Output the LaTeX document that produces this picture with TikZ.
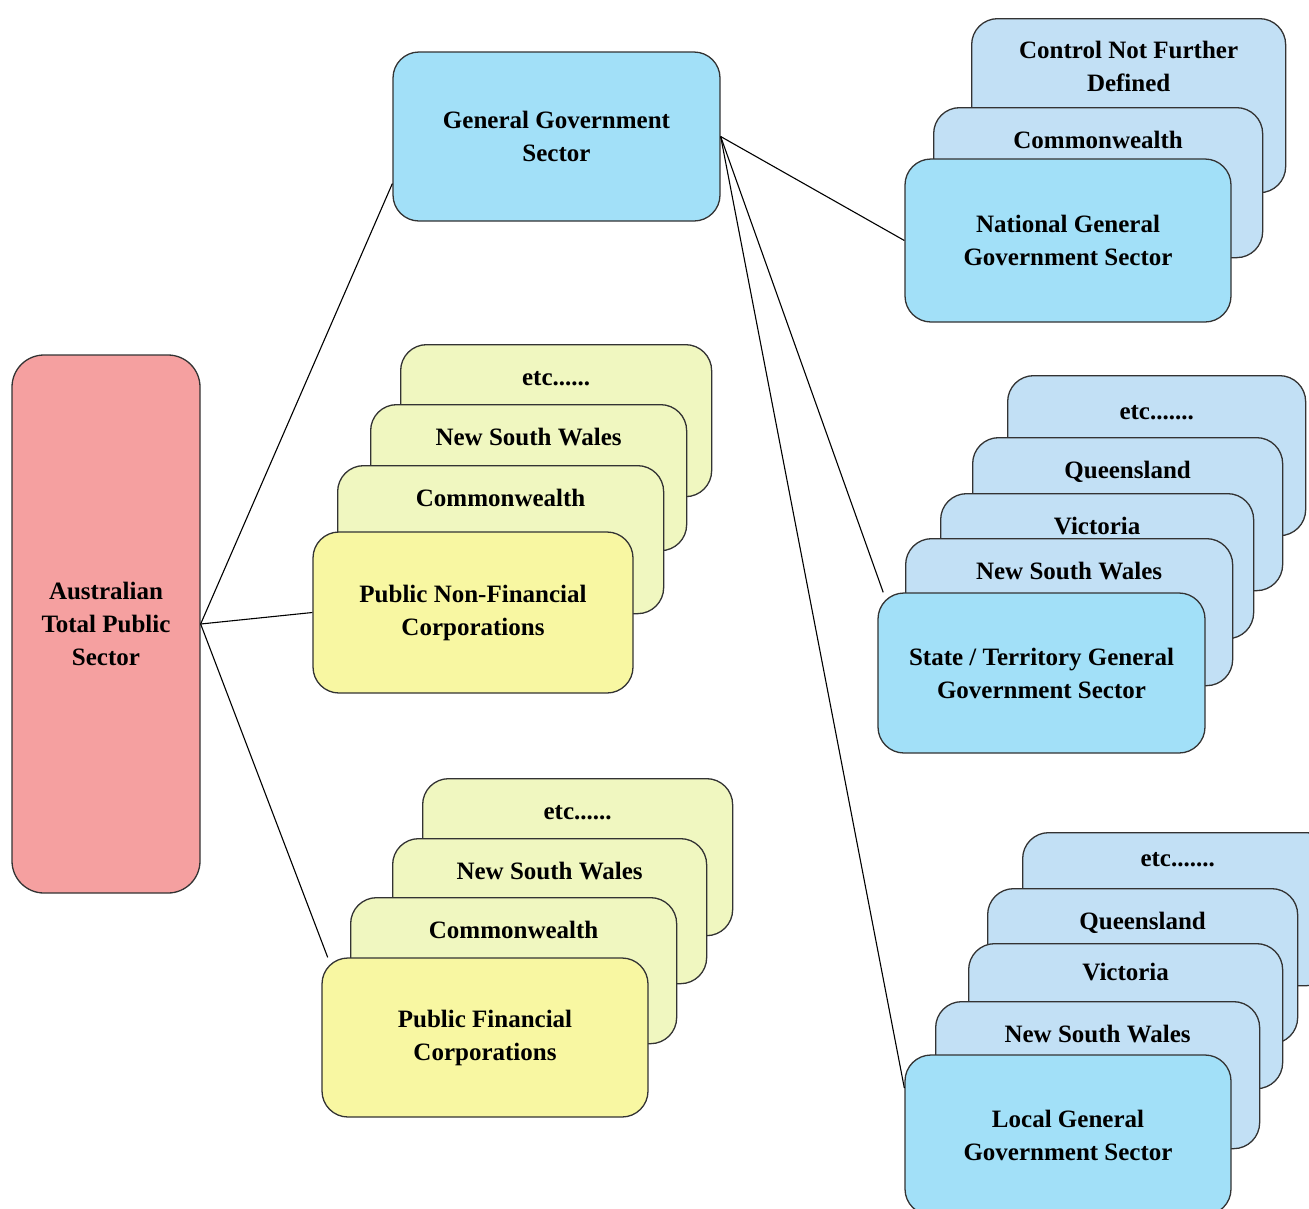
\documentclass[tikz,border=0pt]{standalone}
\usepackage{fontspec}
\setmainfont{Liberation Serif}[BoldFont={Liberation Serif Bold}]
\usepackage{xcolor}
\usetikzlibrary{calc}

\definecolor{pinkbox}{RGB}{245,160,160}
\definecolor{cyanbox}{RGB}{162,224,248}
\definecolor{bluecard}{RGB}{194,224,245}
\definecolor{yellowbox}{RGB}{248,247,162}
\definecolor{yellowcard}{RGB}{240,247,192}

\begin{document}
\begin{tikzpicture}[x=1pt, y=-1pt,
	box/.style={draw=black!80, line width=1.3pt, rounded corners=26pt, align=center,
		inner sep=0pt, font=\rmfamily\bfseries\fontsize{25}{33}\selectfont},
	card/.style={box, anchor=north west, text height=41pt},
	link/.style={draw=black, line width=1.1pt}]
	\useasboundingbox (0,0) rectangle (1309,1208);

	% top level
	\node[box, fill=pinkbox, rounded corners=32pt, minimum width=188pt, minimum height=538pt] (atps) at (106,624) {Australian\\Total Public\\Sector};
	\node[box, fill=cyanbox, minimum width=327pt, minimum height=169pt] (ggs) at (556.5,136.5) {General Government\\Sector};

	% public non-financial corporations
	\node[card, fill=yellowcard, minimum width=311pt, text depth=111pt] (pnfcEtc) at (400,344) {etc......};
	\node[card, fill=yellowcard, minimum width=316pt, text depth=105pt] (pnfcNsw) at (370,404) {New South Wales};
	\node[card, fill=yellowcard, minimum width=326pt, text depth=107pt] (pnfcCw) at (337,465) {Commonwealth};
	\node[box, fill=yellowbox, minimum width=320pt, minimum height=161pt] (pnfc) at (473,612.5) {Public Non-Financial\\Corporations};

	% public financial corporations
	\node[card, fill=yellowcard, minimum width=310pt, text depth=116pt] (pfcEtc) at (422,778) {etc......};
	\node[card, fill=yellowcard, minimum width=314pt, text depth=104pt] (pfcNsw) at (392,838) {New South Wales};
	\node[card, fill=yellowcard, minimum width=326pt, text depth=105pt] (pfcCw) at (350,897) {Commonwealth};
	\node[box, fill=yellowbox, minimum width=326pt, minimum height=159pt] (pfc) at (485,1037.5) {Public Financial\\Corporations};

	% national
	\node[card, fill=bluecard, minimum width=314pt, text height=73pt, text depth=101pt] (natCnfd) at (971,18) {Control Not Further\\Defined};
	\node[card, fill=bluecard, minimum width=329pt, text depth=109pt] (natCw) at (933,107) {Commonwealth};
	\node[box, fill=cyanbox, minimum width=326pt, minimum height=163pt] (nat) at (1068,240.5) {National General\\Government Sector};

	% state / territory
	\node[card, fill=bluecard, minimum width=298pt, text height=44pt, text depth=116pt] (stEtc) at (1007,375) {etc.......};
	\node[card, fill=bluecard, minimum width=310pt, text depth=112pt] (stQld) at (972,437) {Queensland};
	\node[card, fill=bluecard, minimum width=313pt, text depth=104pt] (stVic) at (940,493) {Victoria};
	\node[card, fill=bluecard, minimum width=327pt, text depth=106pt] (stNsw) at (905,538) {New South Wales};
	\node[box, fill=cyanbox, minimum width=327pt, minimum height=160pt] (state) at (1041.5,673) {State / Territory General\\Government Sector};

	% local
	\node[card, fill=bluecard, minimum width=310pt, text height=34pt, text depth=119pt] (locEtc) at (1022,832) {etc.......};
	\node[card, fill=bluecard, minimum width=310pt, text depth=114pt] (locQld) at (987,888) {Queensland};
	\node[card, fill=bluecard, minimum width=314pt, text height=37pt, text depth=108pt] (locVic) at (968,943) {Victoria};
	\node[card, fill=bluecard, minimum width=324pt, text depth=106pt] (locNsw) at (935,1001) {New South Wales};
	\node[box, fill=cyanbox, minimum width=326pt, minimum height=160pt] (local) at (1068,1135) {Local General\\Government Sector};

	% connectors
	\draw[link] (atps.east) -- (ggs.196);
	\draw[link] (atps.east) -- (pnfc.west);
	\draw[link] (atps.east) -- (pfc.153);
	\draw[link] (ggs.east) -- (nat.west);
	\draw[link] (ggs.east) -- (state.153);
	\draw[link] (ggs.east) -- (local.164);
\end{tikzpicture}
\end{document}
